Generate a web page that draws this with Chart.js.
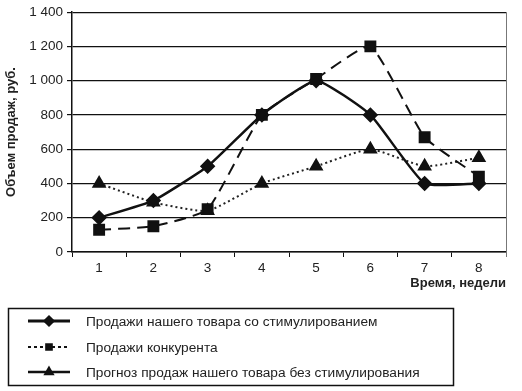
<!DOCTYPE html>
<html>
<head>
<meta charset="utf-8">
<script src="https://cdn.jsdelivr.net/npm/chart.js@4"></script>
<style>
  html, body { margin: 0; padding: 0; background: #fff; }
  #wrap { width: 522px; height: 391px; }
</style>
</head>
<body>
<div id="wrap"><canvas id="myChart" width="522" height="391"></canvas></div>
<script>
// weeks on the x axis
const weeks = ["1", "2", "3", "4", "5", "6", "7", "8"];

// series values
const ourSalesPromo = [200, 300, 500, 800, 1000, 800, 400, 400];
const competitorSales = [130, 150, 250, 800, 1010, 1200, 670, 440];
const forecastNoPromo = [400, 290, 240, 400, 500, 600, 500, 550];

const seriesNames = [
  "Продажи нашего товара со стимулированием",
  "Продажи конкурента",
  "Прогноз продаж нашего товара без стимулирования"
];

// y tick labels (values 0..1400 step 200)
const yTickValues = [0, 200, 400, 600, 800, 1000, 1200, 1400];
const yTickLabels = ["0", "200", "400", "600", "800", "1 000", "1 200", "1 400"];

const ink = "#111";
const font = "'Liberation Sans', Arial, sans-serif";

// legend box drawn below the plot
const boxLegend = {
  id: "boxLegend",
  afterDraw(chart) {
    const ctx = chart.ctx;
    ctx.save();
    ctx.strokeStyle = ink;
    ctx.lineWidth = 1.5;
    ctx.strokeRect(8.5, 308.5, 445, 77);
    const rows = [321, 347, 372];
    const legendDash = [[], [3, 3], []];
    const legendWidth = [3, 2, 2.5];
    chart.data.datasets.forEach((ds, i) => {
      const y = rows[i];
      ctx.beginPath();
      ctx.setLineDash(legendDash[i]);
      ctx.lineWidth = legendWidth[i];
      ctx.strokeStyle = ink;
      ctx.moveTo(28, y);
      ctx.lineTo(70, y);
      ctx.stroke();
      ctx.setLineDash([]);
      Chart.helpers.drawPoint(ctx, { pointStyle: ds.pointStyle, radius: 4, borderWidth: 1 }, 49, y);
      ctx.fillStyle = ink;
      ctx.fill();
      ctx.font = "13.7px " + font;
      ctx.textBaseline = "middle";
      ctx.fillStyle = "#222";
      ctx.fillText(ds.label, 86, y + 1);
    });
    // right frame of the plot
    const a = chart.chartArea;
    ctx.strokeStyle = "#777";
    ctx.lineWidth = 1;
    ctx.beginPath();
    ctx.moveTo(a.right + 0.5, a.top);
    ctx.lineTo(a.right + 0.5, a.bottom + 5);
    ctx.stroke();
    ctx.restore();
  }
};

const ctx = document.getElementById("myChart").getContext("2d");

new Chart(ctx, {
  type: "line",
  data: {
    labels: weeks,
    datasets: [
      {
        label: seriesNames[0],
        data: ourSalesPromo,
        borderColor: ink,
        backgroundColor: ink,
        borderWidth: 2.5,
        tension: 0.15,
        pointStyle: "rectRot",
        pointRadius: 6,
        pointBackgroundColor: ink,
        pointBorderColor: ink
      },
      {
        label: seriesNames[1],
        data: competitorSales,
        borderColor: ink,
        backgroundColor: ink,
        borderWidth: 2,
        borderDash: [12, 7],
        tension: 0.15,
        pointStyle: "rect",
        pointRadius: 7,
        pointBackgroundColor: ink,
        pointBorderColor: ink
      },
      {
        label: seriesNames[2],
        data: forecastNoPromo,
        borderColor: "#222",
        backgroundColor: ink,
        borderWidth: 2,
        borderDash: [2, 3],
        tension: 0.15,
        pointStyle: "triangle",
        pointRadius: 6.5,
        pointBackgroundColor: ink,
        pointBorderColor: ink
      }
    ]
  },
  options: {
    responsive: false,
    animation: false,
    layout: { padding: { left: 0, right: 16, top: 9, bottom: 100 } },
    plugins: {
      legend: { display: false },
      tooltip: { enabled: false }
    },
    scales: {
      x: {
        offset: true,
        afterFit: (scale) => { scale.height = 39; },
        grid: {
          offset: true,
          drawOnChartArea: false,
          drawTicks: true,
          tickLength: 5,
          color: ink
        },
        border: { color: ink, width: 1.5 },
        ticks: { color: "#222", padding: 3, font: { family: font, size: 13.5 } },
        title: {
          display: true,
          text: "Время, недели",
          align: "end",
          color: "#222",
          padding: { top: 0, bottom: 0 },
          font: { family: font, size: 13, weight: "bold" }
        }
      },
      y: {
        min: 0,
        max: 1400,
        afterFit: (scale) => { scale.width = 72; },
        afterBuildTicks: (scale) => {
          scale.ticks = yTickValues.map((v) => ({ value: v }));
        },
        grid: {
          color: ink,
          lineWidth: 1.2,
          tickLength: 5
        },
        border: { color: ink, width: 1.5 },
        ticks: {
          color: "#222",
          padding: 4,
          font: { family: font, size: 13.5 },
          callback: (value) => yTickLabels[yTickValues.indexOf(value)]
        },
        title: {
          display: true,
          text: "Объем продаж, руб.",
          color: "#222",
          padding: { top: 4, bottom: 0 },
          font: { family: font, size: 13, weight: "bold" }
        }
      }
    }
  },
  plugins: [boxLegend]
});
</script>
</body>
</html>
